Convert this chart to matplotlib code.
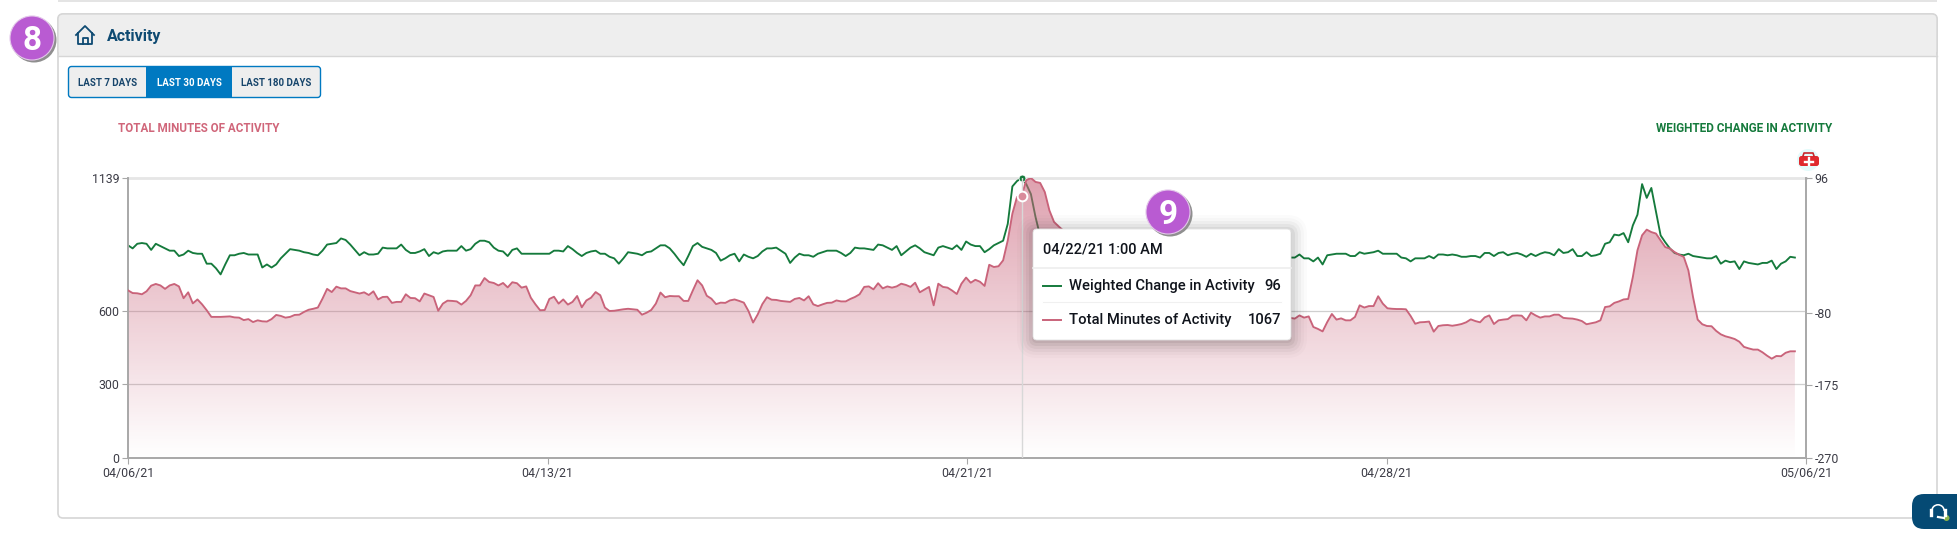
import numpy as np
import matplotlib
matplotlib.use("Agg")
import matplotlib.pyplot as plt
from matplotlib.patches import FancyBboxPatch, Circle, Rectangle, Wedge
from matplotlib.colors import LinearSegmentedColormap

plt.rcParams["font.family"] = ["Roboto", "DejaVu Sans"]
plt.rcParams["axes.unicode_minus"] = False

# values, one point every 2 hours
# the part behind the tooltip is a rough guess
weighted_change = [
    8,4,10,11,10,2,10,7,4,1,1,-6,-4,1,-2,-3,-3,-16,-16,-22,-30,-17,-5,-5,-3,-2,-4,-4,-4,-21,
    -17,-21,-17,-9,-3,3,2,1,-1,-2,-4,-5,1,9,10,11,17,15,9,2,-5,-1,-4,-4,-3,5,4,4,4,9,
    2,-2,-2,0,3,-6,-1,-3,0,1,1,1,7,1,3,10,14,14,12,5,1,0,-6,2,4,-3,-3,-3,-3,-3,
    -3,-3,1,1,
    0,7,3,-2,-6,-2,0,1,-3,-3,-7,-9,-16,-9,-1,-2,-3,-5,-1,0,4,8,8,4,-3,-11,-18,-6,7,11,
    6,4,2,-2,-12,-9,-5,-3,-13,-4,-7,-9,-6,0,4,4,5,1,-3,-15,-8,-3,-5,-5,-7,-3,-1,1,1,1,
    -2,-6,-2,5,4,4,3,2,9,8,5,2,7,-5,0,5,8,4,-1,-3,-5,5,7,5,3,8,2,13,9,7,
    7,-1,3,8,11,
    14,36,85,92,96,88,75,45,
    20,8,2,-2,-4,-3,-5,-6,-4,-3,-5,-7,-6,-4,-3,-4,-6,-8,-7,-5,-4,-6,-5,-3,-4,-6,-7,-5,-4,-6,
    -8,-6,-5,-7,-9,-7,-5,-6,-8,-6,-4,-6,-7,-5,-4,-6,-8,-7,-5,-6,-7,-8,-6,-7,-8,
    -8,-4,-9,-9,-13,-8,-17,-5,-4,-3,-3,-3,-6,-6,-1,-3,-2,-1,1,-3,-3,-3,-3,-8,-9,-13,-9,-9,-9,-6,
    -9,-4,-4,-5,-4,-5,-7,-7,-6,-6,-8,-2,-2,-6,-2,-1,-5,-3,-2,-4,-7,-3,-6,-3,-1,-2,-5,3,-2,-1,
    3,-6,-6,-1,-6,-5,
    -3,10,12,22,21,24,12,34,48,88,70,83,52,21,12,4,-2,-4,-5,-3,-6,-7,-8,-9,-9,-6,-16,-12,-14,-13,
    -23,-13,-15,-16,-17,-15,-15,-12,-23,-16,-13,-7,-8,
]

total_minutes = [
    682,671,670,666,678,701,708,702,688,702,708,698,650,674,629,645,625,601,574,574,574,575,576,572,571,561,565,553,560,556,
    555,565,582,578,571,574,582,583,594,603,607,612,648,688,675,697,690,690,679,674,669,674,663,678,645,655,656,631,635,635,
    666,651,650,637,669,662,655,599,628,640,639,637,624,639,662,702,702,732,716,712,702,712,694,715,711,693,698,652,625,601,
    602,647,656,628,
    645,624,635,659,613,641,652,675,662,612,598,599,602,605,607,605,603,583,591,602,628,673,654,659,658,658,639,639,682,723,
    702,660,648,626,632,631,641,645,639,632,598,551,584,626,654,644,643,639,637,635,647,651,641,658,625,618,625,631,632,641,
    637,637,647,655,666,696,698,686,711,690,698,693,698,709,704,696,713,674,685,696,621,709,696,693,681,667,709,734,713,725,
    717,700,786,777,780,
    804,885,994,1062,1067,1130,1139,1123,1119,1082,1007,960,942,
    925,900,860,830,800,775,750,730,715,700,690,675,665,655,650,640,630,625,620,610,
    605,600,595,590,585,590,595,590,585,580,575,570,572,575,570,568,565,570,575,572,
    568,565,570,572,575,570,568,572,575,570,
    567,580,571,576,533,525,515,553,586,563,568,560,560,574,621,612,618,618,658,628,609,607,606,606,605,578,546,552,553,555,
    514,537,540,541,538,541,545,552,564,557,552,572,580,545,560,563,565,579,580,579,560,591,580,571,576,576,583,583,570,568,
    567,563,557,544,548,552,
    560,614,617,631,637,645,647,736,845,906,929,919,913,885,858,852,838,827,818,763,655,563,544,537,536,517,503,495,490,484,
    473,452,446,441,441,430,416,404,415,414,428,434,434,
]

left_ticks = [0, 300, 600, 1139]
right_ticks = [-270, -175, -80, 96]
date_labels = ["04/06/21", "04/13/21", "04/21/21", "04/28/21", "05/06/21"]
hover_index = 193
hover_change = 96
hover_minutes = 1067

GREEN = "#157a3c"
RED = "#c9637a"
NAVY = "#0e4a72"
TEXT = "#3c3c46"
W, H = 1957, 549

fig = plt.figure(figsize=(W / 100, H / 100), dpi=100, facecolor="white")

# page furniture, in pixels
bg = fig.add_axes([0, 0, 1, 1], zorder=0)
bg.set_xlim(0, W)
bg.set_ylim(H, 0)
bg.axis("off")
bg.add_patch(Rectangle((58, 0), 1879, 2, fc="#e4e4e4", ec="none"))
bg.add_patch(FancyBboxPatch((58, 14), 1879, 504, boxstyle="round,pad=0,rounding_size=5", fc="white", ec="#d6d6d6", lw=1.2))
bg.add_patch(FancyBboxPatch((58, 14), 1879, 42, boxstyle="round,pad=0,rounding_size=5", fc="#eeeeee", ec="#d6d6d6", lw=1))
bg.add_patch(Rectangle((59, 40), 1877, 16, fc="#eeeeee", ec="none"))
bg.plot([58, 1937], [55.5, 55.5], color="#d6d6d6", lw=1)
bg.text(107, 36, "Activity", color=NAVY, fontsize=11.5, fontweight="bold", va="center")

# home icon
bg.plot([76, 85, 94], [35, 26, 35], color=NAVY, lw=1.3)
bg.plot([78, 78, 92, 92], [33, 44, 44, 33], color=NAVY, lw=1.3)
bg.plot([82.5, 82.5, 87.5, 87.5], [44, 37.5, 37.5, 44], color=NAVY, lw=1.3)

# range buttons
bg.add_patch(FancyBboxPatch((68.5, 66.5), 252, 31, boxstyle="round,pad=0,rounding_size=3", fc="#eeeeee", ec="#0079c1", lw=1))
bg.add_patch(Rectangle((146, 66), 86, 32, fc="#0079c1", ec="none"))
for cx, label, col in [(108, "LAST 7 DAYS", "#17456b"), (189.5, "LAST 30 DAYS", "white"), (276.5, "LAST 180 DAYS", "#17456b")]:
    bg.text(cx, 82.5, label, color=col, fontsize=7, fontweight="bold", ha="center", va="center")

bg.text(118, 129, "TOTAL MINUTES OF ACTIVITY", color="#d0667a", fontsize=8.35, fontweight="bold", va="center")
bg.text(1832, 129, "WEIGHTED CHANGE IN ACTIVITY", color=GREEN, fontsize=8.45, fontweight="bold", va="center", ha="right")

# chart axes
ax = fig.add_axes([128 / W, (H - 458) / H, 1678 / W, 280 / H], zorder=2)
ax2 = ax.twinx()
ax2.set_zorder(1)
ax.patch.set_visible(False)
ax2.patch.set_visible(False)

x_end = 362.4
x_ticks = np.linspace(0, x_end, len(date_labels))
xs_change = np.arange(len(weighted_change))
xs_minutes = np.arange(len(total_minutes))

ax.set_xlim(0, x_end)
ax.set_ylim(left_ticks[0], left_ticks[-1])
ax2.set_ylim(right_ticks[0], right_ticks[-1])
ax.set_yticks(left_ticks)
ax2.set_yticks(right_ticks)
ax.set_xticks(x_ticks)
ax.set_xticklabels(date_labels)
ax.grid(axis="y", color="#cfcfcf", lw=0.9)
ax.yaxis.get_gridlines()[-1].set_visible(False)
ax.set_axisbelow(True)
for a in (ax, ax2):
    for s in a.spines.values():
        s.set_color("#a8a8a8")
        s.set_linewidth(1.2)
    a.spines["top"].set_visible(False)
    a.tick_params(colors=TEXT, color="#a8a8a8", labelsize=8.9, length=4.5, width=0.8, pad=1.5)
ax.tick_params(axis="x", pad=2)
ax2.axhline(right_ticks[-1], color="#e6e6e6", lw=2, zorder=1, clip_on=False)

ax2.plot(xs_change, weighted_change, color=GREEN, lw=1.35, zorder=2)

# red area with a vertical fade
fade = LinearSegmentedColormap.from_list("fade", [(0.79, 0.39, 0.48, 0.0), (0.79, 0.39, 0.48, 0.6)])
grad = np.linspace(1, 0, 256).reshape(-1, 1)
img = ax.imshow(grad, cmap=fade, extent=[0, xs_minutes[-1], 0, left_ticks[-1]], aspect="auto", zorder=2, vmin=0, vmax=1)
poly = ax.fill_between(xs_minutes, total_minutes, 0, color="none")
img.set_clip_path(poly.get_paths()[0], transform=ax.transData)
ax.set_xlim(0, x_end)
ax.set_ylim(left_ticks[0], left_ticks[-1])
ax.plot(xs_minutes, total_minutes, color=RED, lw=1.35, zorder=3)

# hover marks
ax.axvline(hover_index, color="#d8d8d8", lw=1, zorder=4)
ax2.plot([hover_index], [hover_change], "o", color=GREEN, ms=5, mec="white", mew=0.6, clip_on=False, zorder=5)
ax.plot([hover_index], [hover_minutes], "o", color="#d98b9b", ms=7, mec="white", mew=1.4, zorder=5)

# overlay in pixels
top = fig.add_axes([0, 0, 1, 1], zorder=5)
top.set_xlim(0, W)
top.set_ylim(H, 0)
top.axis("off")
top.patch.set_visible(False)

# tooltip
for g, al in zip(range(16, 0, -3), [0.015, 0.02, 0.03, 0.04, 0.05, 0.06]):
    top.add_patch(FancyBboxPatch((1033 - g, 229 - g + 2), 258 + 2 * g, 111 + 2 * g, boxstyle="round,pad=0,rounding_size=%d" % (4 + g),
                                 fc="black", ec="none", alpha=al))
top.add_patch(FancyBboxPatch((1033, 229), 258, 111, boxstyle="round,pad=0,rounding_size=4", fc="white", ec="#e2e2e2", lw=0.6))
top.plot([1033, 1291], [268, 268], color="#eeeeee", lw=1.2)
top.plot([1043, 1281], [302, 302], color="#f0f0f0", lw=0.8)
top.text(1043, 250, "04/22/21 1:00 AM", color="#10141c", fontsize=10.5, fontweight="medium", va="center")
top.plot([1043, 1061], [285.5, 285.5], color=GREEN, lw=1.4)
top.plot([1043, 1061], [319.5, 319.5], color=RED, lw=1.4)
top.text(1069, 286, "Weighted Change in Activity", color="#10141c", fontsize=10.6, fontweight="medium", va="center")
top.text(1069, 320, "Total Minutes of Activity", color="#10141c", fontsize=10.6, fontweight="medium", va="center")
top.text(1281, 286, str(hover_change), color="#10141c", fontsize=10.6, fontweight="medium", va="center", ha="right")
top.text(1281, 320, str(hover_minutes), color="#10141c", fontsize=10.6, fontweight="medium", va="center", ha="right")

# numbered badges
for cx, cy, label in [(32, 38, "8"), (1168, 212, "9")]:
    top.add_patch(Circle((cx + 2, cy + 2), 22.5, fc="#8f8f8f", ec="none"))
    top.add_patch(Circle((cx, cy), 22, fc="#b95bd2", ec="#e3c6ea", lw=0.8))
    top.text(cx, cy, label, color="white", fontsize=24, fontweight="bold", ha="center", va="center_baseline")

# first aid kit
top.add_patch(Circle((1808, 160), 11, fc="#e4fbfb", ec="none"))
top.add_patch(FancyBboxPatch((1799, 156), 20, 10, boxstyle="round,pad=0,rounding_size=2.5", fc="#e02a2e", ec="none"))
top.plot([1803, 1804, 1813, 1814], [156, 153, 153, 156], color="#c8282c", lw=1.2)
top.plot([1805, 1813], [161.5, 161.5], color="white", lw=1.7)
top.plot([1808.5, 1808.5], [158, 165], color="white", lw=1.7)

# chat button
top.add_patch(FancyBboxPatch((1912, 494), 70, 35, boxstyle="round,pad=0,rounding_size=12", fc="#054a74", ec="none"))
top.add_patch(Wedge((1938, 511), 7, 180, 360, width=1.6, fc="white", ec="none"))
top.plot([1931, 1931], [510, 515], color="white", lw=2.4)
top.plot([1945, 1945], [510, 515], color="white", lw=2.4)
top.plot([1938, 1944], [517, 518], color="white", lw=1.6)
top.add_patch(Circle((1946.5, 518), 3, fc="#8bb24a", ec="none"))

fig.savefig("out.png", dpi=100)
